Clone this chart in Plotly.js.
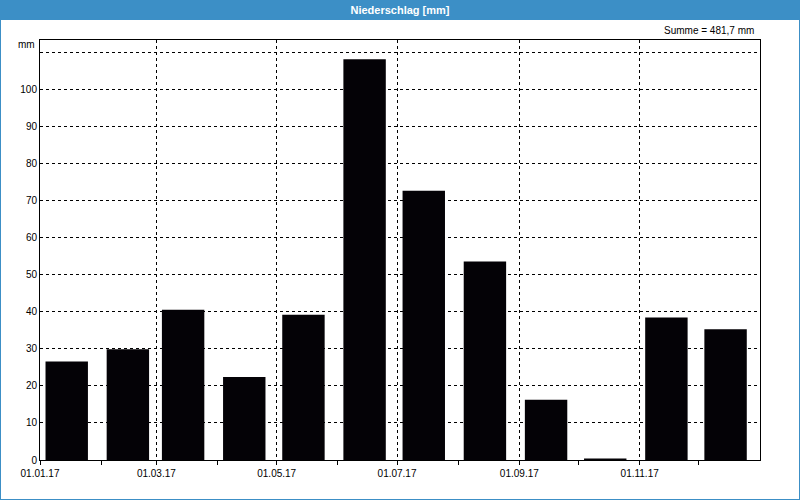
<!DOCTYPE html>
<html>
<head>
<meta charset="utf-8">
<script src="https://cdn.plot.ly/plotly-3.0.1.min.js"></script>
<style>html,body{margin:0;padding:0;background:#fff;}#chart{width:800px;height:500px;}</style>
</head>
<body>
<div id="chart"></div>
<script>
const months = ['2017-01-01','2017-02-01','2017-03-01','2017-04-01','2017-05-01','2017-06-01','2017-07-01','2017-08-01','2017-09-01','2017-10-01','2017-11-01','2017-12-01'];
const precip = [26.6, 29.9, 40.6, 22.4, 39.2, 108.2, 72.7, 53.6, 16.3, 0.4, 38.5, 35.3];
const labelDates = ['2017-01-01','2017-03-01','2017-05-01','2017-07-01','2017-09-01','2017-11-01'];
const labelTexts = ['01.01.17','01.03.17','01.05.17','01.07.17','01.09.17','01.11.17'];
const yTickVals = [0,10,20,30,40,50,60,70,80,90,100,110];
const yTickTexts = ['0','10','20','30','40','50','60','70','80','90','100',''];
const chartTitle = 'Niederschlag [mm]';
const sumText = 'Summe = 481,7 mm';
const unitText = 'mm';

const DAY = 86400000;
const fontFam = 'Liberation Sans, Arial, sans-serif';
const blue = '#3c8fc6';

const trace = {
  type: 'bar',
  x: months,
  y: precip,
  width: months.map(() => 21.5 * DAY),
  offset: months.map(() => 2.8 * DAY),
  marker: {color: '#040206', line: {width: 0}},
  hoverinfo: 'x+y'
};

const layout = {
  width: 800, height: 500,
  margin: {l: 40, r: 40, t: 40, b: 40, pad: 0},
  paper_bgcolor: '#ffffff',
  plot_bgcolor: '#ffffff',
  showlegend: false,
  font: {family: fontFam, size: 10, color: '#000'},
  title: {text: '<b>' + chartTitle + '</b>', font: {family: fontFam, size: 11, color: '#ffffff'}, x: 0.5, xref: 'paper', y: 0.98, yref: 'container', yanchor: 'middle', xanchor: 'center'},
  xaxis: {
    type: 'date',
    range: ['2017-01-01', '2018-01-01'],
    tickmode: 'array',
    tickvals: labelDates,
    ticktext: labelTexts,
    ticks: 'outside', ticklen: 4, tickcolor: '#000', tickwidth: 1,
    showgrid: true, gridcolor: '#000', gridwidth: 1, griddash: '3px,3px',
    showline: true, linecolor: '#000', linewidth: 1, mirror: true,
    zeroline: false,
    tickfont: {family: fontFam, size: 10, color: '#000'},
    minor: {tickmode: 'array', tickvals: months, ticks: 'outside', ticklen: 4, tickcolor: '#000', showgrid: false},
    fixedrange: true
  },
  yaxis: {
    range: [0, 113.4],
    tickmode: 'array',
    tickvals: yTickVals,
    ticktext: yTickTexts,
    ticks: '',
    showgrid: true, gridcolor: '#000', gridwidth: 1, griddash: '3px,3px',
    showline: true, linecolor: '#000', linewidth: 1, mirror: true,
    zeroline: false,
    tickfont: {family: fontFam, size: 10, color: '#000'},
    fixedrange: true
  },
  shapes: [
    {type: 'rect', xref: 'paper', yref: 'paper', x0: -40/720, x1: 760/720, y0: 440/420, y1: 460/420, fillcolor: blue, line: {width: 0}, layer: 'below'},
    {type: 'line', xref: 'paper', yref: 'paper', x0: -39.5/720, x1: -39.5/720, y0: -39.5/420, y1: 460/420, line: {color: blue, width: 1}},
    {type: 'line', xref: 'paper', yref: 'paper', x0: 759.5/720, x1: 759.5/720, y0: -39.5/420, y1: 460/420, line: {color: blue, width: 1}},
    {type: 'line', xref: 'paper', yref: 'paper', x0: -40/720, x1: 760/720, y0: -39.5/420, y1: -39.5/420, line: {color: blue, width: 1}}
  ],
  annotations: [
    {text: sumText, xref: 'paper', yref: 'paper', x: 716/720, y: 430/420, xanchor: 'right', yanchor: 'middle', showarrow: false, font: {family: fontFam, size: 10, color: '#000'}},
    {text: unitText, xref: 'paper', yref: 'paper', x: -3/720, y: 415/420, xanchor: 'right', yanchor: 'middle', showarrow: false, font: {family: fontFam, size: 10, color: '#000'}}
  ]
};

Plotly.newPlot('chart', [trace], layout, {displayModeBar: false, staticPlot: true});
</script>
</body>
</html>
